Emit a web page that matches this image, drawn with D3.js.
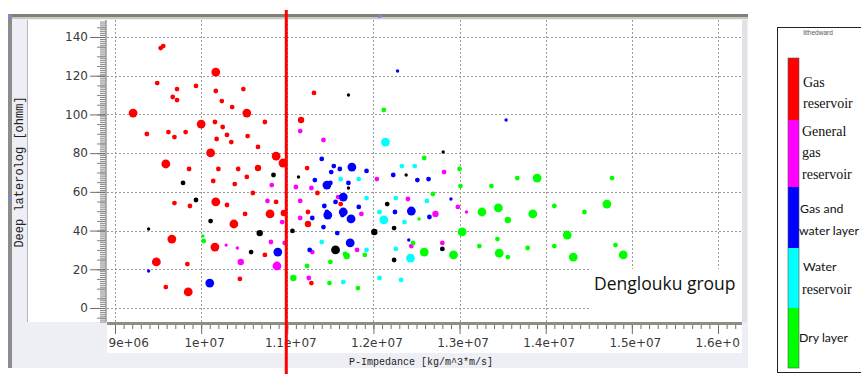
<!DOCTYPE html>
<html><head><meta charset="utf-8">
<script src="https://cdn.jsdelivr.net/npm/d3@7"></script>
<style>body{margin:0;background:#fff;} svg{display:block}</style>
</head><body><svg id="c" width="861" height="374"></svg>
<script>
// ---- data: [P-impedance (x1e6 kg/m^3*m/s), deep laterolog (ohmm), marker size class]
const gasReservoir = [
[9.53,134.3,2],[9.56,135.3,2],[10.17,121.9,4],[9.49,116.2,2],[9.72,113.1,2],[9.94,114.7,2],
[10.17,112.1,2],[10.49,113.1,2],[9.67,109.0,2],[9.72,107.4,2],[10.24,106.9,2],[10.36,103.8,2],
[9.21,100.7,4],[10.53,100.7,4],[10.16,96.1,2],[10.74,96.1,2],[10.0,95.0,4],[10.25,93.5,2],
[9.37,89.9,2],[9.62,90.9,2],[9.82,90.9,2],[9.69,88.3,2],[10.30,89.4,2],[10.18,87.3,2],
[10.54,88.8,2],[10.35,85.7,2],[10.66,83.2,2],[10.11,80.1,4],[10.87,78.5,4],[9.59,74.4,4],
[10.95,74.9,4],[9.86,71.8,2],[10.20,71.8,2],[10.43,71.8,2],[10.66,72.3,3],[10.53,67.7,2],
[10.14,65.6,2],[10.39,64.0,2],[10.60,59.4,2],[9.69,54.2,2],[9.87,52.7,2],[10.17,54.8,4],
[10.30,53.2,2],[10.87,54.8,2],[10.51,48.6,2],[10.80,48.6,4],[10.96,49.1,3],[10.38,43.4,4],
[9.66,35.6,4],[10.16,31.5,4],[10.74,27.4,2],[9.48,23.8,4],[9.84,22.7,2],[10.45,15.0,2],
[9.59,10.8,2],[9.85,8.3,4],[11.31,111.1,2],[11.16,97.1,3],[11.23,72.3,2],[11.35,59.4,2],
[11.62,53.7,2],[11.24,49.6,2],[11.24,43.4,3],[11.28,12.9,2]
];
const generalGasReservoir = [
[10.82,63.5,2],[10.77,55.3,2],[10.94,44.4,2],[10.29,32.5,1],[10.42,31.0,1],[10.81,34.1,2],
[10.97,33.6,2],[10.46,23.8,3],[10.88,21.7,4],[11.15,91.4,2],[11.42,86.8,2],[12.82,70.2,2],
[12.04,66.6,2],[11.10,62.5,2],[11.28,62.0,2],[11.15,55.3,2],[11.59,57.3,2],[12.40,56.3,2],
[12.98,52.2,2],[13.08,49.6,1],[11.86,48.6,2],[12.72,48.6,3],[11.15,46.5,2],[12.44,32.0,2],
[12.80,33.6,2],[11.29,28.9,2],[11.81,30.0,2],[11.25,15.5,2]
];
const gasWaterLayer = [
[9.39,19.1,1],[10.89,28.9,4],[10.10,12.9,4],[12.28,122.4,1],[13.54,97.1,1],[11.40,77.0,2],
[11.54,73.3,2],[11.61,71.8,2],[11.75,72.8,4],[11.92,70.8,2],[11.51,70.2,2],[12.23,68.7,2],
[11.32,66.1,2],[12.51,66.1,2],[12.64,66.6,2],[11.71,64.6,2],[11.46,63.5,4],[11.50,64.6,2],
[11.65,57.3,4],[11.56,54.8,2],[12.90,56.3,1],[11.43,52.7,2],[11.47,48.0,4],[11.46,49.6,2],
[11.65,49.6,4],[11.83,52.2,2],[11.74,46.0,4],[11.64,48.0,2],[12.25,49.6,2],[12.44,50.1,4],
[12.65,47.0,2],[11.29,46.5,2],[11.42,41.8,2],[11.58,38.7,2],[11.73,33.6,4],[12.41,35.1,1],
[11.26,30.0,2]
];
const waterReservoir = [
[12.14,85.7,4],[12.33,73.3,2],[12.48,73.3,2],[11.62,66.6,2],[11.83,66.6,2],[11.92,56.8,2],
[12.26,56.8,2],[12.62,55.3,2],[12.07,49.6,2],[12.12,45.5,4],[12.36,44.4,2],[11.40,34.1,2],
[11.92,30.0,2],[12.26,30.5,2],[12.43,25.8,4],[11.65,13.4,2],[12.07,15.5,2],[12.32,14.5,2]
];
const dryLayer = [
[10.02,37.2,1],[10.03,34.6,2],[12.12,102.3,2],[12.59,77.5,2],[13.00,71.8,2],[13.01,63.0,2],
[12.69,58.9,2],[12.53,46.0,1],[13.03,39.3,4],[12.46,33.6,2],[11.67,27.9,2],[11.69,26.9,3],
[11.90,27.4,2],[12.59,28.9,4],[12.93,27.4,4],[11.50,23.8,2],[11.23,21.7,2],[11.07,15.5,3],
[11.49,12.9,2],[11.82,10.3,2],[13.37,63.0,2],[13.67,67.1,2],[13.90,67.1,4],[14.77,67.1,2],
[13.26,49.6,4],[13.45,51.7,4],[13.56,45.5,3],[13.85,48.6,4],[14.10,52.7,2],[14.45,49.6,2],
[14.71,53.7,4],[13.44,35.6,2],[13.23,32.0,2],[13.46,28.4,4],[13.56,26.3,2],[13.79,31.0,2],
[14.10,32.0,2],[14.25,37.7,4],[14.32,26.3,4],[14.81,32.5,2],[14.90,27.4,4]
];
const unclassified = [
[10.84,68.7,2],[9.79,64.6,2],[9.94,55.8,2],[10.11,44.9,2],[9.39,40.8,1],[10.68,38.7,3],
[10.58,28.9,2],[11.71,110.0,1],[12.81,80.6,1],[11.13,67.7,1],[12.38,68.7,1],[11.71,62.0,1],
[12.16,53.7,2],[11.06,39.8,2],[12.01,39.3,3],[12.24,41.3,2],[12.80,30.5,2],[11.56,30.0,4],
[12.24,24.8,2]
];
const xTicks = [9e6, 1e7, 1.1e7, 1.2e7, 1.3e7, 1.4e7, 1.5e7, 1.6e7];
const xTickLabels = ["9e+06","1e+07","1.1e+07","1.2e+07","1.3e+07","1.4e+07","1.5e+07","1.6e+07"];
const yTicks = [0, 20, 40, 60, 80, 100, 120, 140];
const cutoffImpedance = 1.1e7;
const legendColors = ["#ff0000","#ff00ff","#0000ff","#00ffff","#00ff00"];
const legendTitle = "lithedward";
const xTitle = "P-Impedance [kg/m^3*m/s]";
const yTitle = "Deep laterolog [ohmm]";
const groupLabel = "Denglouku group";

const series = [
  {data: unclassified, color: "#000000"},
  {data: gasReservoir, color: "#ff0000"},
  {data: generalGasReservoir, color: "#ff00ff"},
  {data: gasWaterLayer, color: "#0000ff"},
  {data: waterReservoir, color: "#00ffff"},
  {data: dryLayer, color: "#00ff00"}
];

const svg = d3.select("#c");
const lav = "#eeeef5";
const x = d3.scaleLinear().domain([9e6, 1.6e7]).range([115, 718]);
const y = d3.scaleLinear().domain([0, 140]).range([308, 37]);
const rSize = d3.scaleOrdinal().domain([1,2,3,4]).range([1.7, 2.4, 3.2, 4.4]);

const defs = svg.append("defs");
defs.append("filter").attr("id","soft").append("feGaussianBlur").attr("stdDeviation",0.35);
defs.append("clipPath").attr("id","xclip").append("rect").attr("x",107).attr("y",322).attr("width",633).attr("height",32);

// frame
svg.append("rect").attr("x",8).attr("y",14).attr("width",740).attr("height",354).attr("fill",lav);
svg.append("rect").attr("x",8).attr("y",14).attr("width",740).attr("height",3).attr("fill","#808076");
svg.append("rect").attr("x",8).attr("y",17).attr("width",740).attr("height",2).attr("fill","#c9c9bd");
svg.append("rect").attr("x",8).attr("y",14).attr("width",4).attr("height",354).attr("fill","#8c8c8c");
svg.append("rect").attr("x",27).attr("y",20).attr("width",80).attr("height",302).attr("fill","#fff");
svg.append("line").attr("x1",27.5).attr("x2",27.5).attr("y1",20).attr("y2",322).attr("stroke","#b8b8b8");
svg.append("rect").attr("x",107).attr("y",20).attr("width",635).attr("height",302).attr("fill","#fff");
svg.append("rect").attr("x",742).attr("y",20).attr("width",5).attr("height",302).attr("fill","#e2e2e6");
svg.append("rect").attr("x",107).attr("y",322).attr("width",635).attr("height",31).attr("fill","#fff");
svg.append("rect").attr("x",8).attr("y",15).attr("width",3).attr("height",3).attr("fill","#6a8cff");
svg.append("rect").attr("x",378).attr("y",15).attr("width",3).attr("height",3).attr("fill","#6a8cff");
svg.append("rect").attr("x",9).attr("y",197).attr("width",3).attr("height",3).attr("fill","#6a8cff");

// grid
const grid = svg.append("g").attr("stroke","#9a9a9a").attr("stroke-dasharray","2,2").attr("stroke-width",1);
grid.selectAll("line.v").data(xTicks).join("line")
  .attr("x1",d=>Math.round(x(d))+0.5).attr("x2",d=>Math.round(x(d))+0.5).attr("y1",20).attr("y2",322);
grid.selectAll("line.h").data(yTicks).join("line")
  .attr("x1",107).attr("x2",742).attr("y1",d=>Math.round(y(d))+0.5).attr("y2",d=>Math.round(y(d))+0.5);

// points
const pts = svg.append("g").attr("filter","url(#soft)");
series.forEach(s => {
  pts.append("g").selectAll("circle").data(s.data).join("circle")
    .attr("cx", d => x(d[0]*1e6)).attr("cy", d => y(d[1])).attr("r", d => rSize(d[2]))
    .attr("fill", s.color);
});

// y axis
const yAxisG = svg.append("g").attr("transform","translate(106,0)");
yAxisG.call(d3.axisLeft(y).tickValues(d3.range(-7,149,1)).tickSize(6).tickFormat(""));
yAxisG.call(g => g.selectAll(".tick line").attr("stroke","#858585"));
const yAxisMid = svg.append("g").attr("transform","translate(106,0)");
yAxisMid.call(d3.axisLeft(y).tickValues(d3.range(-5,149,5)).tickSize(9).tickFormat(""));
yAxisMid.call(g => g.selectAll(".tick line").attr("stroke","#858585"));
const yAxisMaj = svg.append("g").attr("transform","translate(106,0)");
yAxisMaj.call(d3.axisLeft(y).tickValues(yTicks).tickSize(16).tickPadding(2).tickFormat(d3.format("d")));
yAxisMaj.call(g => g.selectAll(".tick line").attr("stroke","#6f6f6f"));
yAxisMaj.selectAll("text").attr("font-family","DejaVu Sans").attr("font-size",12).attr("fill","#3a3a3a");
svg.selectAll(".domain").remove();
svg.append("line").attr("x1",106).attr("x2",106).attr("y1",20).attr("y2",322).attr("stroke","#9a9a9a").attr("stroke-width",1.5);

// x axis
const xAxisMin = svg.append("g").attr("transform","translate(0,324)");
xAxisMin.call(d3.axisBottom(x).tickValues(d3.range(90,163,1).map(d=>d*1e5)).tickSize(5).tickFormat(""));
xAxisMin.call(g => g.selectAll(".tick line").attr("stroke","#6f6f6f"));
const xClipWrap = svg.append("g").attr("clip-path","url(#xclip)");
const xAxisMaj = xClipWrap.append("g").attr("transform","translate(0,324)");
xAxisMaj.call(d3.axisBottom(x).tickValues(xTicks).tickSize(10).tickPadding(4).tickFormat((d,i)=>xTickLabels[i]));
xAxisMaj.call(g => g.selectAll(".tick line").attr("stroke","#6f6f6f"));
xAxisMaj.selectAll("text").attr("font-family","DejaVu Sans").attr("font-size",12).attr("fill","#3a3a3a")
  .attr("text-anchor",(d,i)=> i===0 ? "start" : "middle")
  .attr("x",(d,i)=> i===0 ? -7 : 3);
svg.selectAll(".domain").remove();
svg.append("rect").attr("x",107).attr("y",322).attr("width",635).attr("height",3).attr("fill","#8e8e84");

// titles
svg.append("text").attr("transform","translate(23,172) rotate(-90)").attr("text-anchor","middle")
  .attr("font-family","Liberation Mono").attr("font-size",12).attr("fill","#222").text(yTitle);
svg.append("text").attr("x",421).attr("y",365).attr("text-anchor","middle")
  .attr("font-family","Liberation Mono").attr("font-size",10).attr("fill","#222").text(xTitle);

// group label box
svg.append("rect").attr("x",590).attr("y",269).attr("width",152).attr("height",53).attr("fill","#fff");
svg.append("text").attr("x",594).attr("y",290).attr("font-family","Open Sans").attr("font-size",17.5)
  .attr("fill","#111").text(groupLabel);

// cutoff line
svg.append("line").attr("x1",x(cutoffImpedance)-1).attr("x2",x(cutoffImpedance)-1).attr("y1",10).attr("y2",374)
  .attr("stroke","#ff0000").attr("stroke-width",3);

// legend
const lg = svg.append("g");
lg.append("rect").attr("x",777.5).attr("y",27.5).attr("width",95).attr("height",345).attr("fill","#fff").attr("stroke","#222");
lg.append("text").attr("x",818).attr("y",35).attr("text-anchor","middle").attr("font-family","Liberation Sans")
  .attr("font-size",6.5).attr("fill","#555").text(legendTitle);
const segEdges = [58,120,187,248,308,368];
lg.selectAll("rect.seg").data(legendColors).join("rect")
  .attr("x",788).attr("y",(d,i)=>segEdges[i]).attr("width",11).attr("height",(d,i)=>segEdges[i+1]-segEdges[i])
  .attr("fill",d=>d);
lg.append("rect").attr("x",788).attr("y",58).attr("width",11).attr("height",310).attr("fill","none").attr("stroke","#555").attr("stroke-width",0.6);
const labelSpec = [
  {lines:[["Gas",87,803],["reservoir",108,803]], serif:true},
  {lines:[["General",136,802],["gas",157,802],["reservoir",179,802]], serif:true},
  {lines:[["Gas and",213,800],["water layer",235,799]], serif:false},
  {lines:[["Water",271,803]], serif:false},
  {lines:[["reservoir",294,802]], serif:true},
  {lines:[["Dry layer",342,799]], serif:false}
];
labelSpec.forEach(s => s.lines.forEach(l => {
  lg.append("text").attr("x",l[2]).attr("y",l[1])
    .attr("font-family", s.serif ? "Liberation Serif" : "Lato")
    .attr("font-size", s.serif ? 14 : 12.3).attr("fill","#111").text(l[0]);
}));
</script></body></html>
